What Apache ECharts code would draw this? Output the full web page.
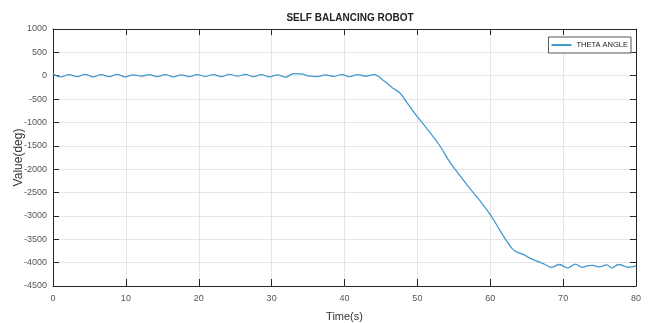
<!DOCTYPE html>
<html><head><meta charset="utf-8">
<script src="https://cdn.jsdelivr.net/npm/echarts@6/dist/echarts.min.js"></script>
<style>html,body{margin:0;padding:0;background:#fff}#c{width:662px;height:323px}</style>
</head><body><div id="c"></div>
<script>
const titleText = 'SELF BALANCING ROBOT';
const seriesName = 'THETA ANGLE';
const xName = 'Time(s)';
const yName = 'Value(deg)';
const xTicks = [0,10,20,30,40,50,60,70,80];
const yTicks = [1000,500,0,-500,-1000,-1500,-2000,-2500,-3000,-3500,-4000,-4500];
const times = [0,1.1,2.2,3.3,4.4,5.5,6.6,7.7,8.8,9.9,11,12.1,13.2,14.3,15.4,16.5,17.6,18.7,19.8,20.9,22,23.1,24.2,25.3,26.4,27.5,28.6,29.7,30.8,31.9,33,34.1,35.2,36.3,37.4,38.5,39.6,40.7,41.8,42.9,44,
 45.5,46.5,47.6,48.5,49.9,51.3,53.1,54.5,55.9,57.5,58.2,60.0,61.4,62.3,63.0,63.6,64.6,65.5,66.6,67.5,68.4,69.5,70.6,71.7,72.6,73.3,74.0,74.9,76.0,76.7,77.6,79,80];
const theta = [35,-25,25,-20,30,-25,25,-20,30,-25,20,-10,25,-20,25,-25,20,-20,25,-15,25,-20,30,-10,30,-20,25,-25,20,-30,45,40,-10,-20,20,-15,25,-20,25,-10,25,
 -120,-250,-370,-560,-860,-1130,-1504,-1860,-2148,-2470,-2600,-2971,-3330,-3550,-3700,-3770,-3830,-3910,-3980,-4040,-4100,-4040,-4110,-4030,-4100,-4070,-4060,-4090,-4050,-4110,-4040,-4100,-4070];
const font = '"Liberation Sans Narrow","Arial Narrow","Liberation Sans",Arial,sans-serif';
const chart = echarts.init(document.getElementById('c'));
const axisLine = {show:true, onZero:false, lineStyle:{color:'#262626', width:1}};
const tickIn = {show:true, inside:true, length:6, lineStyle:{color:'#262626'}};
chart.setOption({
  animation:false,
  title:{text:titleText, left:345, top:8, textAlign:'center',
    textStyle:{fontFamily:font, fontSize:10, fontWeight:'bold', color:'#222'}},
  legend:{data:[seriesName], right:31, top:37, orient:'vertical',
    backgroundColor:'#fff', borderColor:'#555', borderWidth:1, padding:[4,3,4,3],
    itemWidth:20, itemHeight:2, itemGap:0, icon:'rect',
    textStyle:{fontFamily:font, fontSize:7.5, color:'#222'}},
  grid:{left:53, right:26, top:29, bottom:37, containLabel:false, outerBoundsMode:'none'},
  xAxis:[{type:'value', min:0, max:80, interval:10, name:xName, nameLocation:'middle', nameGap:25, nameMoveOverlap:false,
    nameTextStyle:{fontFamily:font, fontSize:11, color:'#333'},
    axisLine:axisLine, axisTick:{...tickIn, length:7},
    axisLabel:{fontFamily:font, fontSize:9, color:'#555', margin:8, formatter:v=>xTicks.includes(v)?String(v):''},
    splitLine:{show:true, lineStyle:{color:'#e6e6e6'}}},
   {type:'value', position:'top', min:0, max:80, interval:10, axisLine:axisLine, axisTick:tickIn,
    axisLabel:{show:false}, splitLine:{show:false}}],
  yAxis:[{type:'value', min:-4500, max:1000, interval:500, name:yName, nameLocation:'middle', nameGap:28, nameMoveOverlap:false,
    nameTextStyle:{fontFamily:font, fontSize:12, color:'#333'},
    axisLine:axisLine, axisTick:tickIn,
    axisLabel:{fontFamily:font, fontSize:9, color:'#555', margin:6, formatter:v=>yTicks.includes(v)?String(v):''},
    splitLine:{show:true, lineStyle:{color:'#e6e6e6'}}},
   {type:'value', position:'right', min:-4500, max:1000, interval:500, axisLine:axisLine, axisTick:tickIn,
    axisLabel:{show:false}, splitLine:{show:false}}],
  series:[{name:seriesName, type:'line', data:times.map((t,i)=>[t,theta[i]]),
    smooth:0.4, showSymbol:false, lineStyle:{color:'#4599cf', width:1.3}, itemStyle:{color:'#4599cf'}}]
});
</script></body></html>
